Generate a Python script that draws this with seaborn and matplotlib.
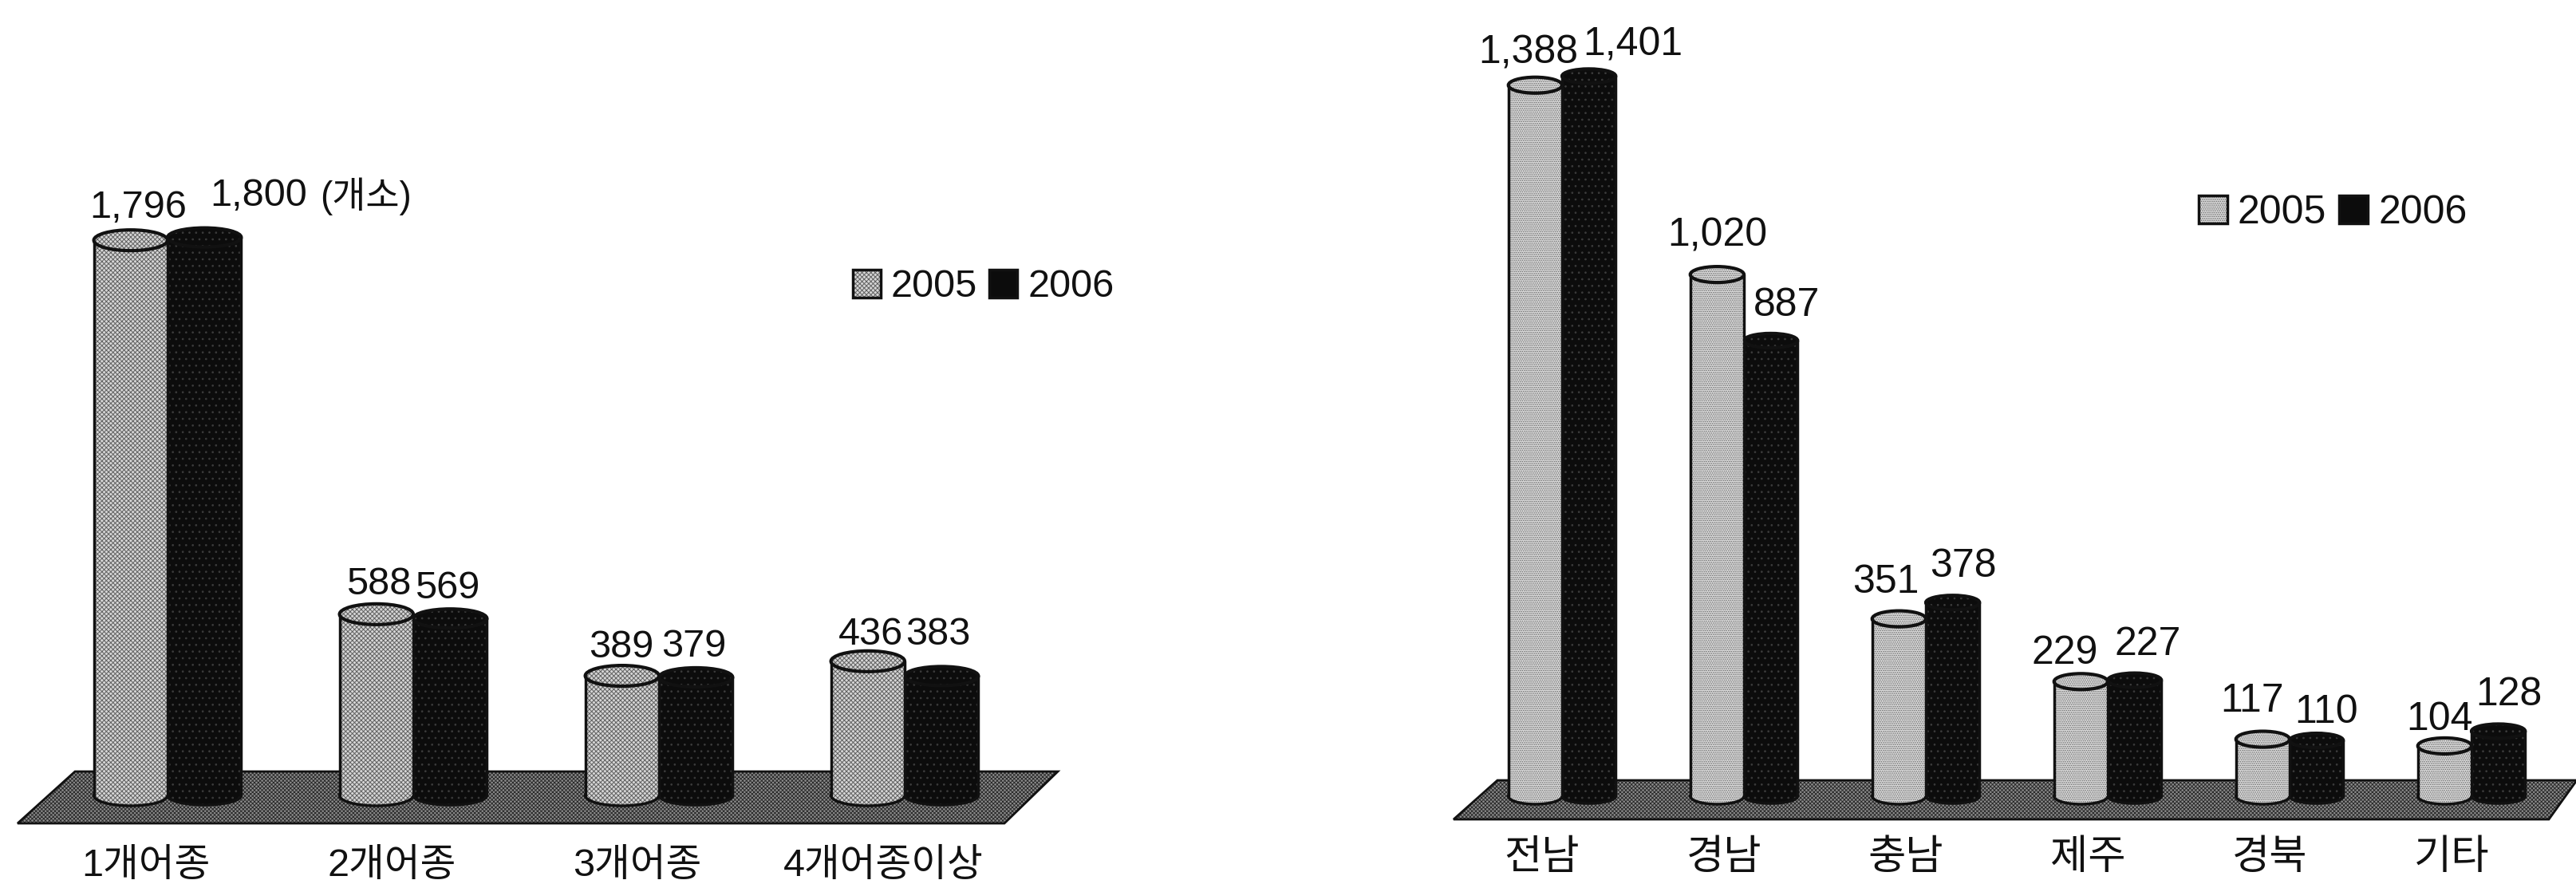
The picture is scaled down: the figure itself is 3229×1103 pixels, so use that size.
import pandas as pd
import matplotlib
matplotlib.use('Agg')
import matplotlib.pyplot as plt
import matplotlib.transforms as mtrans
from matplotlib.legend_handler import HandlerTuple
from matplotlib.patches import Ellipse, Polygon, Patch
import seaborn as sns

# Data
years = ['2005', '2006']
species = ['1개어종', '2개어종', '3개어종', '4개어종이상']
species_2005 = [1796, 588, 389, 436]
species_2006 = [1800, 569, 379, 383]
regions = ['전남', '경남', '충남', '제주', '경북', '기타']
region_2005 = [1388, 1020, 351, 229, 117, 104]
region_2006 = [1401, 887, 378, 227, 110, 128]

W, H = 3230, 1103
FONT = ['Liberation Sans', 'Noto Sans CJK KR']
INK = '#111111'

sns.set_theme(style='white')
plt.rcParams['font.family'] = FONT
plt.rcParams['hatch.linewidth'] = 0.7

fig = plt.figure(figsize=(W / 100, H / 100), dpi=100, facecolor='white')
# scan pixels, y going down
px = mtrans.Affine2D().scale(1 / W, -1 / H).translate(0, 1) + fig.transFigure


def make_axes(x0, x1, y1, zero_y, scale, n):
    ax = fig.add_axes([x0 / W, 1 - y1 / H, (x1 - x0) / W, y1 / H])
    ax.set_xlim(-0.5, n - 0.5)
    ax.set_ylim(-(y1 - zero_y) / scale, zero_y / scale)
    return ax


def draw_ellipse(ax, xy, w, h, face, hatch, hcol, lw, z):
    # hatch colour follows the edge colour, so the outline goes on separately
    ax.add_patch(Ellipse(xy, w, h, facecolor=face, edgecolor=hcol, hatch=hatch, lw=0, zorder=z))
    ax.add_patch(Ellipse(xy, w, h, fill=False, edgecolor=INK, lw=lw, zorder=z))


def draw_panel(ax, cats, vals05, vals06, scale, opts):
    df = pd.DataFrame({'cat': cats * 2,
                       'year': [years[0]] * len(cats) + [years[1]] * len(cats),
                       'count': vals05 + vals06})
    sns.barplot(data=df, x='cat', y='count', hue='year', order=cats, hue_order=years,
                palette=[opts['light'], '#0c0c0c'], width=opts['width'], gap=0,
                legend=False, ax=ax)
    sns.despine(ax=ax, left=True, bottom=True)
    ax.set_xlabel('')
    ax.set_ylabel('')
    ax.set_yticks([])
    ax.set_xlim(-0.5, len(cats) - 0.5)
    ax.tick_params(axis='x', length=0, pad=opts['tick_pad'], labelsize=opts['tick_size'], labelcolor=INK)
    shift = mtrans.ScaledTranslation(opts['tick_shift'] / 100, 0, fig.dpi_scale_trans)
    for lab in ax.get_xticklabels():
        lab.set_transform(lab.get_transform() + shift)
        lab.set_family(FONT)

    # floor slab
    ax.add_patch(Polygon(opts['floor'], closed=True, transform=px, clip_on=False,
                         facecolor='#8c8c8c', edgecolor='#2a2a2a', hatch='xxxxxxx',
                         lw=0, zorder=0.5))
    ax.add_patch(Polygon(opts['floor'], closed=True, transform=px, clip_on=False,
                         fill=False, edgecolor=INK, lw=2, zorder=0.6))

    # turn the flat bars into cylinders
    looks = [(opts['light'], opts['hatch_light'], opts['hatch_col'], opts['drop05'], opts['ell05'], 3),
             ('#0c0c0c', '..', '#3c3c3c', opts['drop06'], opts['ell06'], 2)]
    for cont, vals, look, labs in zip(ax.containers, [vals05, vals06], looks, opts['labels']):
        face, hatch, hcol, drop, ell, z = look
        for rect, val, off in zip(cont, vals, labs):
            x, w = rect.get_x(), rect.get_width()
            top = val - drop / scale
            base = -opts['base_px'] / scale
            rect.set_y(base)
            rect.set_height(top - base)
            rect.set(facecolor=face, edgecolor=hcol, hatch=hatch, linewidth=0, zorder=z)
            draw_ellipse(ax, (x + w / 2, base), w, ell / scale, face, hatch, hcol, 2.5, z - 0.2)
            draw_ellipse(ax, (x + w / 2, top), w, ell / scale, face, hatch, hcol, 3, z + 0.2)
            ax.plot([x, x], [base, top], color=INK, lw=2.5, zorder=z + 0.1)
            ax.plot([x + w, x + w], [base, top], color=INK, lw=2.5, zorder=z + 0.1)
            ax.annotate(f'{val:,}', (x + w / 2, val), xytext=off, textcoords='offset pixels',
                        ha='center', va='center', fontsize=opts['val_size'], color=INK,
                        family=FONT, zorder=6)

    handle05 = (Patch(facecolor=opts['light'], edgecolor=opts['hatch_col'], hatch=opts['hatch_light'], lw=0),
                Patch(fill=False, edgecolor=INK, lw=2.5))
    handle06 = Patch(facecolor='#0c0c0c', edgecolor=INK, lw=2.5)
    ax.legend([handle05, handle06], years, ncols=2, frameon=False, loc='center left',
              bbox_to_anchor=opts['legend_at'], bbox_transform=px,
              handler_map={tuple: HandlerTuple(ndivide=1, pad=0)},
              handlelength=0.72, handleheight=0.72, handletextpad=0.26, columnspacing=0.32,
              borderpad=0, borderaxespad=0, labelcolor=INK, prop={'family': FONT, 'size': opts['leg_size']})


left_opts = {
    'light': '#d6d6d6', 'hatch_light': 'xxxxxx', 'hatch_col': '#606060', 'width': 0.6,
    'tick_size': 35, 'tick_pad': 13, 'tick_shift': -27, 'val_size': 35, 'leg_size': 35,
    'floor': [(94, 967), (1326, 967), (1259, 1032), (22, 1032)],
    'drop05': 14, 'ell05': 26, 'drop06': 12, 'ell06': 24, 'base_px': 13,
    'legend_at': (1069, 360),
    # label offsets from the bar top, in pixels
    'labels': [[(9, 27), (3, 23), (-1, 22), (4, 19)],
               [(68, 40), (-4, 26), (-2, 26), (-4, 40)]],
}
right_opts = {
    'light': '#e0e0e0', 'hatch_light': '.......', 'hatch_col': '#555555', 'width': 0.59,
    'tick_size': 37, 'tick_pad': 8, 'tick_shift': -25, 'val_size': 36, 'leg_size': 36,
    'floor': [(1877, 978), (3230, 978), (3195, 1027), (1822, 1027)],
    'drop05': 12, 'ell05': 20, 'drop06': 9, 'ell06': 18, 'base_px': 8,
    'legend_at': (2756, 267),
    'labels': [[(-9, 28), (0, 37), (-16, 34), (-20, 23), (-13, 36), (-6, 21)],
               [(55, 30), (20, 35), (13, 36), (17, 36), (12, 26), (13, 36)]],
}

ax_left = make_axes(56, 1288, 1045, 984, 0.388, len(species))
draw_panel(ax_left, species, species_2005, species_2006, 0.388, left_opts)
# unit note next to the tallest bar
ax_left.text(459, 246, '(개소)', transform=px, ha='center', va='center', fontsize=33,
             color=INK, family=FONT)

ax_right = make_axes(1844, 3212, 1040, 990, 0.645, len(regions))
draw_panel(ax_right, regions, region_2005, region_2006, 0.645, right_opts)

fig.savefig('out.png', dpi=100, facecolor='white')
